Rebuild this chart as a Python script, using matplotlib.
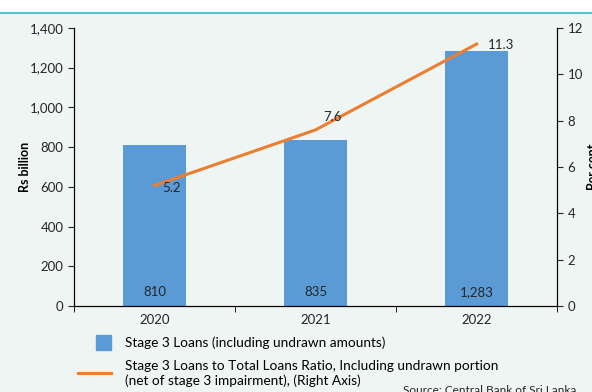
import matplotlib.pyplot as plt
from matplotlib.lines import Line2D
from matplotlib.patches import Patch, Rectangle
from matplotlib.legend_handler import HandlerPatch

plt.rcParams['font.family'] = ['Lato', 'DejaVu Sans']

years = ["2020", "2021", "2022"]
stage3_loans = [810, 835, 1283]
bar_labels = ["810", "835", "1,283"]
ratio = [5.2, 7.6, 11.3]
ratio_labels = ["5.2", "7.6", "11.3"]

bg = "#eff5f3"
bar_color = "#5b9bd5"
line_color = "#ed7d31"
text_color = "#262626"

fig = plt.figure(figsize=(5.92, 3.92), dpi=100, facecolor=bg)
# white strip + teal rule at top
fig.patches.append(Rectangle((0, 0.968), 1, 0.032, transform=fig.transFigure,
                             facecolor="white", edgecolor="none", zorder=0))
fig.add_artist(Line2D([0, 1], [0.968, 0.968], transform=fig.transFigure,
                      color="#56c1cf", lw=1.5))

ax = fig.add_axes([0.125, 0.219, 0.816, 0.71])
ax.set_facecolor(bg)
x = list(range(len(years)))
ax.bar(x, stage3_loans, width=0.39, color=bar_color, zorder=2)
for xi, v, lab in zip(x, stage3_loans, bar_labels):
    ax.text(xi, 70, lab, ha="center", va="center", fontsize=9.5, color=text_color, zorder=4)

ax.set_xlim(-0.5, 2.5)
ax.set_ylim(0, 1400)
ax.set_yticks(range(0, 1401, 200))
ax.set_yticklabels([f"{v:,}" for v in range(0, 1401, 200)])
ax.set_xticks(x)
ax.set_xticklabels(years)
ax.set_xticks([-0.5, 0.5, 1.5, 2.5], minor=True)
ax.tick_params(axis="x", which="major", length=0, labelsize=9.5, colors=text_color, pad=6)
ax.tick_params(axis="x", which="minor", length=4, direction="out")
ax.tick_params(axis="y", length=4, labelsize=9.5, colors=text_color)
ax.spines["top"].set_visible(False)
ax.set_ylabel("Rs billion", fontsize=9, fontweight="bold")
ax.yaxis.set_label_coords(-0.089, 0.5)

ax2 = ax.twinx()
ax2.plot(x, ratio, color=line_color, lw=2.2, zorder=3)
ax2.set_ylim(0, 12)
ax2.set_yticks(range(0, 13, 2))
ax2.tick_params(axis="y", length=4, labelsize=9.5, colors=text_color)
ax2.spines["top"].set_visible(False)
ax2.set_ylabel("Per cent", fontsize=9, fontweight="bold", rotation=90)
ax2.yaxis.set_label_coords(1.062, 0.5)
offsets = [(0.05, -0.1, "left"), (0.105, 0.55, "center"), (0.07, -0.05, "left")]
for xi, v, lab, (dx, dy, ha) in zip(x, ratio, ratio_labels, offsets):
    ax2.text(xi + dx, v + dy, lab, ha=ha, va="center", fontsize=9.5, color=text_color)


def square_right(legend, orig_handle, xdescent, ydescent, width, height, fontsize):
    side = height * 1.15
    return Rectangle((width - side - xdescent, -ydescent - 0.1 * height), side, side)


handles = [Patch(color=bar_color),
           Line2D([0], [0], color=line_color, lw=2.2)]
labels = ["Stage 3 Loans (including undrawn amounts)",
          "Stage 3 Loans to Total Loans Ratio, Including undrawn portion\n(net of stage 3 impairment), (Right Axis)"]
fig.legend(handles, labels, loc="upper left", bbox_to_anchor=(0.13, 0.148),
           frameon=False, fontsize=9.8, handlelength=2.4, handleheight=1.1,
           handletextpad=1.0, labelspacing=0.85, borderpad=0.1, borderaxespad=0,
           handler_map={Patch: HandlerPatch(patch_func=square_right)})

fig.text(0.68, 0.005, "Source: Central Bank of Sri Lanka", fontsize=8.5,
         color=text_color, ha="left", va="center")

fig.savefig("out.png", dpi=100, facecolor=bg)
